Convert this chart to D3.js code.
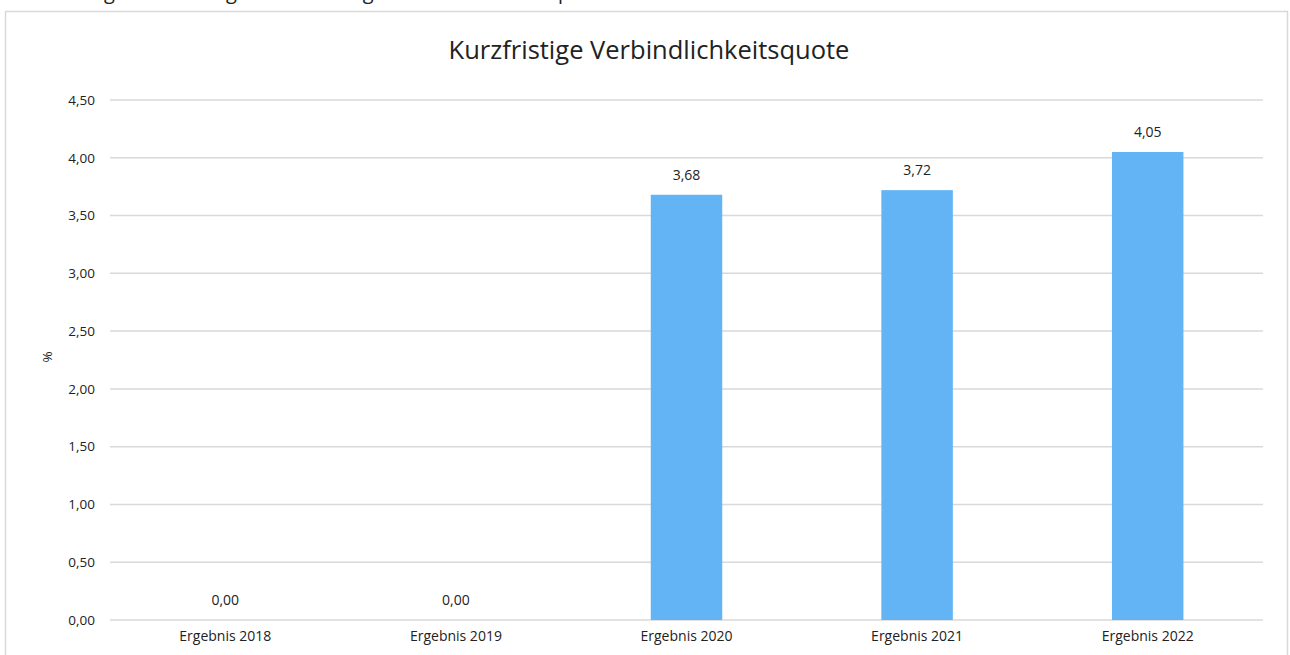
<!DOCTYPE html>
<html><head><meta charset="utf-8">
<script src="https://cdn.jsdelivr.net/npm/d3@7"></script>
<style>
body{margin:0;background:#fff;}
svg{display:block;font-family:"Open Sans",sans-serif;}
</style></head>
<body>
<svg id="c" width="1290" height="655"></svg>
<script>
const categories = ["Ergebnis 2018","Ergebnis 2019","Ergebnis 2020","Ergebnis 2021","Ergebnis 2022"];
const values = [0.00, 0.00, 3.68, 3.72, 4.05];
const valueLabels = ["0,00","0,00","3,68","3,72","4,05"];
const yTicks = [0,0.5,1,1.5,2,2.5,3,3.5,4,4.5];
const title = "Kurzfristige Verbindlichkeitsquote";
const caption = "Abbildung: Entwicklung der Kurzfristigen Verbindlichkeitsquote der Gemeinde";
const yLabel = "%";

const svg = d3.select("#c");
const W = 1290, H = 655;
const m = {left:110, right:27, top:100, bottom:35};

// caption line above the frame (cut off by the top edge, as in the reference)
svg.append("text").attr("x", 20).attr("y", -1).attr("font-size", 20).attr("fill","#222")
  .text(caption);

// chart frame
svg.append("rect").attr("x",5.5).attr("y",11.5).attr("width",1282).attr("height",700)
  .attr("fill","#fff").attr("stroke","#d9d9d9").attr("stroke-width",1.5);

const x = d3.scaleBand().domain(categories).range([m.left, W-m.right]).paddingInner(0.69).paddingOuter(0.345);
const y = d3.scaleLinear().domain([0,4.5]).range([H-m.bottom, m.top]);
const fmt = d3.formatLocale({decimal:",",thousands:".",grouping:[3],currency:["","€"]}).format(".2f");

// gridlines
svg.append("g").selectAll("line").data(yTicks).join("line")
  .attr("x1", m.left).attr("x2", W-m.right)
  .attr("y1", d=>y(d)).attr("y2", d=>y(d))
  .attr("stroke","#d9d9d9").attr("stroke-width",1.5);

// y axis labels
const yAxis = d3.axisLeft(y).tickValues(yTicks).tickFormat(fmt).tickSize(0).tickPadding(15);
const ya = svg.append("g").attr("transform",`translate(${m.left},0)`).call(yAxis);
ya.select(".domain").remove();
ya.selectAll("text").attr("font-size",13.5).attr("fill","#222").attr("font-family","Open Sans");

// x axis labels
const xAxis = d3.axisBottom(x).tickSize(0).tickPadding(11);
const xa = svg.append("g").attr("transform",`translate(0,${H-m.bottom})`).call(xAxis);
xa.select(".domain").remove();
xa.selectAll("text").attr("font-size",14).attr("fill","#222").attr("font-family","Open Sans");

// bars
svg.append("g").selectAll("rect").data(values).join("rect")
  .attr("x",(d,i)=>x(categories[i])).attr("width",x.bandwidth())
  .attr("y",d=>y(d)).attr("height",d=>y(0)-y(d))
  .attr("fill","#63b4f5");

// value labels
svg.append("g").selectAll("text").data(values).join("text")
  .attr("x",(d,i)=>x(categories[i])+x.bandwidth()/2)
  .attr("y",d=>y(d)-15)
  .attr("text-anchor","middle").attr("font-size",14).attr("fill","#222")
  .text((d,i)=>valueLabels[i]);

// title
svg.append("text").attr("x",649).attr("y",59).attr("text-anchor","middle")
  .attr("font-size",25.5).attr("fill","#222").text(title);

// y label
svg.append("text").attr("transform","translate(52,357) rotate(-90)")
  .attr("text-anchor","middle").attr("font-size",13.5).attr("fill","#222").text(yLabel);
</script>
</body></html>
